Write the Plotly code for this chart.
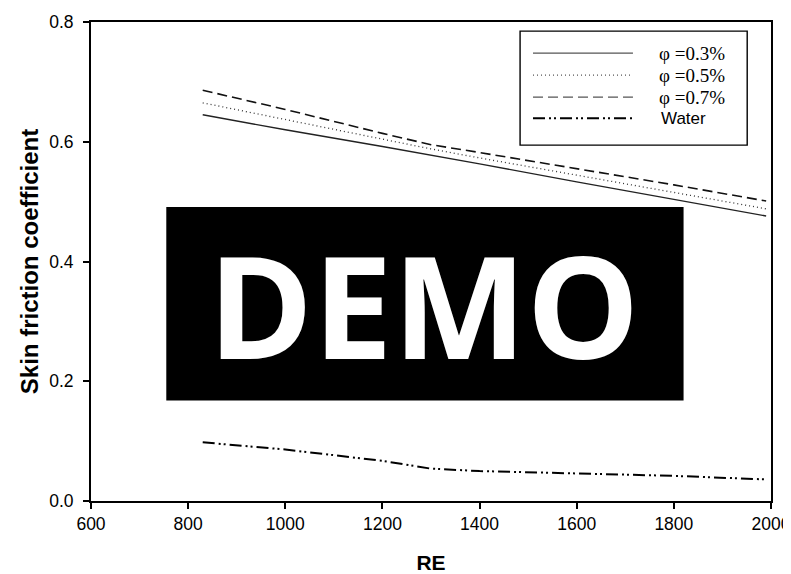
import plotly.graph_objects as go

# Data
re_vals = [830, 1000, 1200, 1300, 1400, 1600, 1800, 1990]
cf_03 = [0.645, 0.620, 0.592, 0.578, 0.563, 0.533, 0.504, 0.476]
cf_05 = [0.665, 0.637, 0.604, 0.588, 0.573, 0.544, 0.516, 0.488]
cf_07 = [0.686, 0.654, 0.614, 0.595, 0.582, 0.555, 0.528, 0.501]
cf_water = [0.098, 0.086, 0.067, 0.054, 0.050, 0.046, 0.042, 0.036]

legend_labels = ["φ =0.3%", "φ =0.5%", "φ =0.7%", "Water"]
x_ticks = [600, 800, 1000, 1200, 1400, 1600, 1800, 2000]
y_ticks = [0.0, 0.2, 0.4, 0.6, 0.8]

series = [
    (cf_03, dict(color="#222222", width=1.4, dash="solid")),
    (cf_05, dict(color="#333333", width=1.3, dash="1px,3px")),
    (cf_07, dict(color="#111111", width=1.6, dash="10px,5px")),
    (cf_water, dict(color="#000000", width=2.0, dash="12px,4px,2px,3px,2px,4px")),
]

fig = go.Figure()
for (vals, ln), name in zip(series, legend_labels):
    fig.add_trace(go.Scatter(x=re_vals, y=vals, mode="lines", line=ln,
                             name=name, showlegend=False))

# Manual legend (styling only)
lx0, lx1 = 0.631, 0.965
ly0, ly1 = 0.743, 0.981
fig.add_shape(type="rect", xref="paper", yref="paper", x0=lx0, x1=lx1, y0=ly0, y1=ly1,
              line=dict(color="black", width=1.4), fillcolor="white", layer="above")
row_y = [0.935, 0.889, 0.843, 0.799]
leg_styles = [
    dict(color="#555555", width=1.3, dash="solid"),
    dict(color="#555555", width=1.3, dash="1px,3px"),
    dict(color="#555555", width=1.3, dash="10px,5px"),
    dict(color="#000000", width=2.0, dash="12px,4px,2px,3px,2px,4px"),
]
for ln, name, ry in zip(leg_styles, legend_labels, row_y):
    fig.add_shape(type="line", xref="paper", yref="paper", x0=0.65, x1=0.797, y0=ry, y1=ry,
                  line=ln, layer="above")
    if name != "Water":
        fnt = dict(family="Liberation Serif", size=19, color="black")
        xx = 0.833
    else:
        fnt = dict(family="Liberation Sans", size=17, color="black")
        xx = 0.836
    fig.add_annotation(xref="paper", yref="paper", x=xx, y=ry, text=name, showarrow=False,
                       xanchor="left", yanchor="middle", font=fnt)

# DEMO watermark
fig.add_shape(type="rect", xref="x", yref="y", x0=755, x1=1820, y0=0.168, y1=0.491,
              fillcolor="black", line=dict(width=0), layer="above")
fig.add_annotation(xref="x", yref="y", x=1285, y=0.329, text="<b>DEMO</b>", showarrow=False,
                   font=dict(family="Open Sans", size=142, color="white"))

# The page body has an 8px default margin, so the figure is sized to fit the window.
fig.update_layout(
    width=783, height=566,
    margin=dict(l=83, r=20, t=14, b=73, autoexpand=False),
    paper_bgcolor="white", plot_bgcolor="white",
    showlegend=False,
    font=dict(family="Liberation Sans", size=18, color="black"),
)
fig.update_xaxes(range=[600, 2000], tickvals=x_ticks, ticks="outside", ticklen=6,
                 tickwidth=1.5, tickcolor="black", showline=True, linecolor="black",
                 linewidth=2, mirror=True, showgrid=False, zeroline=False,
                 title=dict(text="<b>RE</b>", font=dict(size=21), standoff=22),
                 tickfont=dict(size=17.5), ticklabelstandoff=0,
                 ticklabeloverflow="allow", automargin=False)
fig.update_yaxes(range=[0, 0.8], tickvals=y_ticks, tickformat=".1f", ticks="outside",
                 ticklen=6, tickwidth=1.5, tickcolor="black", showline=True,
                 linecolor="black", linewidth=2, mirror=True, showgrid=False,
                 zeroline=False,
                 title=dict(text="<b>Skin friction coefficient</b>", font=dict(size=24),
                            standoff=4),
                 tickfont=dict(size=17.5), ticklabelstandoff=6,
                 ticklabeloverflow="allow", automargin=False)

fig.write_html("out.html")
